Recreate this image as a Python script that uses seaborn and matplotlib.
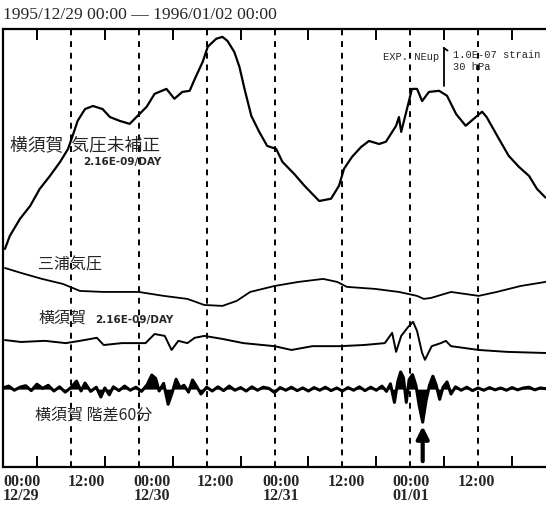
import numpy as np
import pandas as pd
import matplotlib
matplotlib.use('Agg')
import matplotlib.pyplot as plt
import matplotlib.transforms as mtransforms
import seaborn as sns

# --- data (hours from 1995/12/29 00:00) ---
# raw strain, Yokosuka (1e-8 strain, relative to start)
raw_hours = [0.35, 1.2, 3.0, 4.8, 6.5, 8.3, 10.1, 11.5, 12.3, 13.2, 14.5, 15.9, 17.6,
             18.9, 20.6, 22.4, 23.6, 25.4, 26.8, 28.9, 30.3, 31.7, 33.0, 33.9, 35.3,
             36.2, 37.7, 38.8, 39.7, 40.9, 41.8, 42.7, 43.9, 45.3, 46.7, 48.3, 49.4,
             51.5, 53.3, 55.9, 58.0, 59.4, 60.3, 61.7, 63.3, 64.7, 66.5, 67.7, 69.5,
             70.0, 70.4, 71.3, 72.3, 73.2, 74.1, 75.3, 77.1, 78.5, 80.1, 81.8, 83.2,
             84.7, 85.5, 87.7, 89.4, 91.2, 93.0, 94.4, 95.9]
raw_strain = [0, 3.4, 7.9, 11.3, 15.8, 19.2, 22.9, 26.3, 29.7, 33.7, 36.8, 37.6, 36.8,
              34.7, 33.7, 32.9, 34.7, 37.4, 40.8, 42.1, 39.5, 41.3, 41.6, 44.7, 49.2,
              53.2, 55.3, 55.8, 54.7, 51.8, 47.9, 42.1, 35.0, 30.8, 27.1, 26.3, 22.9,
              19.7, 16.6, 12.6, 13.2, 16.6, 21.1, 24.2, 26.8, 28.4, 27.6, 28.2, 32.4,
              34.7, 30.8, 36.1, 42.1, 42.1, 38.9, 41.3, 41.6, 40.3, 35.5, 32.4, 34.2,
              36.1, 34.7, 28.9, 24.5, 21.6, 19.2, 15.8, 13.5]

# air pressure, Miura (hPa)
pres_hours = [0.35, 3.2, 6.9, 10.6, 13.6, 17.8, 24.0, 28.4, 32.6, 35.6, 38.8, 41.3,
              43.7, 48.0, 52.2, 56.6, 59.1, 60.8, 65.8, 70.0, 73.2, 74.4, 75.7, 79.2,
              84.1, 87.3, 91.5, 95.9]
pressure = [1021.0, 1017.1, 1012.4, 1008.4, 1002.9, 1002.1, 1002.1, 999.0, 996.6,
            991.8, 991.1, 995.0, 1002.1, 1006.8, 1010.0, 1012.4, 1010.0, 1006.1,
            1004.5, 1002.1, 999.0, 996.6, 997.4, 1002.1, 999.0, 1002.1, 1006.8, 1010.0]

# detrended strain, Yokosuka (1e-8 strain)
corr_hours = [0.35, 3.2, 7.4, 11.1, 13.6, 16.6, 17.8, 21.0, 25.2, 26.8, 28.6, 29.8,
              31.0, 32.6, 33.9, 35.6, 38.8, 42.5, 48.0, 51.0, 54.7, 59.6, 63.8, 67.5,
              68.8, 69.5, 70.4, 71.6, 72.5, 73.2, 74.1, 74.6, 75.8, 77.4, 78.3, 79.2,
              84.1, 89.1, 95.9]
corr_strain = [0.5, 0, 0.3, -0.3, 0.3, 1.1, -0.8, -0.3, -0.3, 2.1, 1.6, -2.1, 0.3,
               -0.3, 1.1, 1.6, 0.8, -0.3, -1.1, -2.1, -1.1, -1.1, -0.8, -0.3, 2.4,
               -2.6, 1.6, 3.9, 5.3, 2.9, -2.9, -4.7, -1.1, -0.3, 0.3, -1.1, -2.1,
               -2.6, -2.9]

# 60-minute difference, Yokosuka (1e-8 strain)
diff_hours = [0, 1, 2, 3, 4, 5, 6, 7, 8, 9, 10, 11, 12, 13, 13.8, 14.5, 15.5, 16.5,
              17.3, 18, 18.8, 19.5, 20.5, 21.5, 22.5, 23.5, 24.5, 25.5, 26.3, 27,
              27.6, 28.4, 29.2, 29.9, 30.6, 31.3, 32.0, 32.8, 33.5, 34.2, 35.0, 36,
              37, 38, 39, 40, 41, 42, 43, 44, 45, 46, 47, 48, 49, 50, 51, 52, 53, 54,
              55, 56, 57, 58, 59, 60, 61, 62, 63, 64, 65, 66, 67, 67.8, 68.5, 69.2,
              69.8, 70.3, 70.8, 71.3, 71.8, 72.4, 73.0, 73.6, 74.2, 74.8, 75.4, 76.0,
              76.6, 77.2, 77.8, 78.5, 79.2, 80, 81, 82, 83, 84, 85, 86, 87, 88, 89,
              90, 91, 92, 93, 94, 95, 96]
diff_strain = [0.3, 0.8, -0.3, 0.5, 0.9, -0.4, 1.3, 0.2, 1.0, -0.5, 0.6, -0.8, 0.4,
               2.1, -0.5, 1.6, -0.6, 0.5, -2.1, 0.3, -1.5, 0.6, -0.4, 0.8, -0.3, 0.5,
               -0.6, 1.2, 3.7, 2.8, -0.5, 1.5, -4.0, -1.0, 2.6, 0.4, 1.0, -0.8, 2.4,
               0.8, -1.3, 0.5, -0.5, 0.6, -0.4, 0.8, -0.3, 0.4, -0.5, 0.6, -0.3, 0.5,
               0.2, -0.9, 0.4, -0.3, 0.5, -0.4, 0.3, -0.5, 0.4, -0.3, 0.5, -0.4, 0.3,
               -0.5, 0.4, -0.3, 0.6, -0.4, 0.5, -0.3, 0.8, -0.6, 1.4, -3.5, 2.0, 4.5,
               3.0, -3.5, 2.5, 3.8, 1.0, -4.5, -8.7, -3.0, 1.0, 3.4, 1.0, -2.7, 0.5,
               1.9, -1.3, 0.6, -0.3, 0.5, -0.4, 0.3, -0.3, 0.4, -0.2, 0.3, -0.3, 0.4,
               -0.2, 0.3, 0.5, -0.2, 0.3, 0.1]

tick_labels = ['00:00\n12/29', '12:00', '00:00\n12/30', '12:00',
               '00:00\n12/31', '12:00', '00:00\n01/01', '12:00']

# trace baselines on the chart (1e-8 strain units), 30 hPa == 1e-7 strain
raw_base, pres_base, corr_base, diff_base = 57.4, 48.7, 32.9, 20.5
hpa_scale = 10.0 / 30.0

sns.set_style('white')
plt.rcParams['font.family'] = ['Liberation Serif', 'Noto Sans CJK JP']
plt.rcParams['axes.linewidth'] = 1.6

fig = plt.figure(figsize=(5.46, 5.06), dpi=100)
ax = fig.add_axes([3 / 546, 38 / 506, 543 / 546, 438 / 506])

df_raw = pd.DataFrame({'h': raw_hours, 'y': np.array(raw_strain) + raw_base})
df_pres = pd.DataFrame({'h': pres_hours,
                        'y': (np.array(pressure) - 1010.0) * hpa_scale + pres_base})
df_corr = pd.DataFrame({'h': corr_hours, 'y': np.array(corr_strain) + corr_base})
df_diff = pd.DataFrame({'h': diff_hours, 'y': np.array(diff_strain) + diff_base})

sns.lineplot(data=df_raw, x='h', y='y', color='black', lw=1.6, ax=ax)
sns.lineplot(data=df_pres, x='h', y='y', color='black', lw=1.3, ax=ax)
sns.lineplot(data=df_corr, x='h', y='y', color='black', lw=1.4, ax=ax)
sns.lineplot(data=df_diff, x='h', y='y', color='black', lw=2.2, ax=ax)
ax.fill_between(df_diff['h'], diff_base, df_diff['y'], color='black', lw=0)

for h in range(12, 96, 12):
    ax.axvline(h, color='black', lw=1.4, ls=(0, (3, 3)))

ax.set_xlim(0, 96)
ax.set_ylim(0, 438 / 3.8)
ax.set_xlabel('')
ax.set_ylabel('')
ax.set_yticks([])
ax.set_xticks(range(6, 96, 12))
ax.set_xticklabels([])
ax.tick_params(axis='x', which='both', direction='in', length=8, width=1.4,
               top=True, bottom=True, color='black')
ax.spines['right'].set_visible(False)
for s in ['left', 'top', 'bottom']:
    ax.spines[s].set_color('black')

# tick labels under the frame
shifts = [0, -3, -5, -10, -12, -15, -18, -20]
for i, lab in enumerate(tick_labels):
    off = mtransforms.ScaledTranslation(shifts[i] / 100, -6 / 100, fig.dpi_scale_trans)
    tr = mtransforms.blended_transform_factory(ax.transData, ax.transAxes) + off
    ax.text(i * 12, 0, lab, transform=tr, ha='left', va='top', fontsize=11.5,
            fontweight='bold', family='Liberation Serif', linespacing=0.8)

fig.text(3 / 546, 1 - 15 / 506, '1995/12/29 00:00 \u2014 1996/01/02 00:00',
         ha='left', va='center', fontsize=12.6, family='Liberation Serif')

jp = ['Noto Sans CJK JP']
ax.text(1.2, 85, '横須賀  気圧未補正', fontsize=12.8, family=jp, va='center')
ax.text(14.1, 80.5, '2.16E-09/DAY', fontsize=7.5, family='Liberation Sans Narrow',
        fontweight='bold', va='center')
ax.text(6.2, 53.4, '三浦気圧', fontsize=11.5, family=jp, va='center')
ax.text(6.2, 39.5, '横須賀', fontsize=11.5, family=jp, va='center')
ax.text(16.3, 38.9, '2.16E-09/DAY', fontsize=7.5, family='Liberation Sans Narrow',
        fontweight='bold', va='center')
ax.text(5.7, 13.9, '横須賀 階差60分', fontsize=11.5, family=jp, va='center')

# scale bar
ax.text(67.1, 108.2, 'EXP. NEup', fontsize=7.5, family='Liberation Mono', va='center')
ax.plot([77.9, 77.9], [100.3, 110.3], color='black', lw=1.3)
ax.plot([77.9, 78.6], [110.3, 109.6], color='black', lw=1.3)
ax.text(79.6, 108.6, '1.0E-07 strain', fontsize=7.5, family='Liberation Mono', va='center')
ax.text(79.6, 105.5, '30 hPa', fontsize=7.5, family='Liberation Mono', va='center')

# event arrow
ax.annotate('', xy=(74.2, 11.5), xytext=(74.2, 0.8),
            arrowprops=dict(arrowstyle='-|>', color='black', lw=3,
                            mutation_scale=18))

fig.savefig('out.png', dpi=100)
